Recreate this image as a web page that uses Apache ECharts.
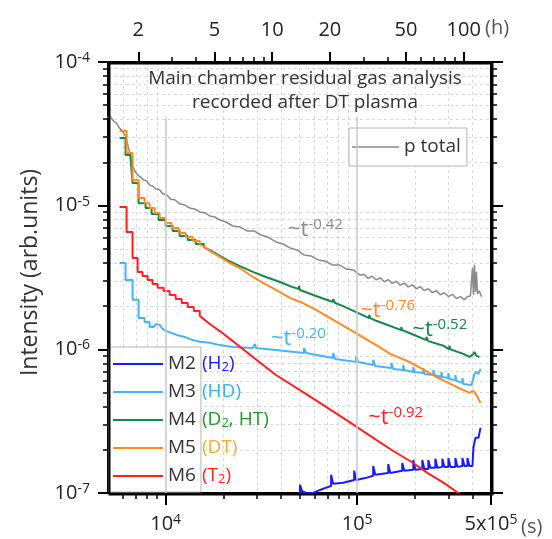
<!DOCTYPE html>
<html>
<head>
<meta charset="utf-8">
<script src="https://cdn.jsdelivr.net/npm/echarts@6.0.0/dist/echarts.min.js"></script>
<style>
  html, body { margin: 0; padding: 0; background: #fff; }
  #chart { width: 552px; height: 539px; }
</style>
</head>
<body>
<div id="chart"></div>
<script>
// ---- data: time after plasma (s) and intensity (arb. units) ----
const totalTime = [4970, 5152, 5342, 5540, 5743, 5884, 6026, 6176, 6324, 6478,
  6637, 6798, 6965, 7136, 7397, 7670, 7954, 8245, 8550, 8862,
  9302, 9645, 10120, 10620, 11150, 11840, 12575, 13357, 14185, 15066,
  16000, 16997, 18050, 19177, 20610, 22430, 24400, 26550, 28880, 31440,
  34200, 37660, 41000, 44600, 48520, 52790, 57430, 62500, 68000, 73980,
  80500, 87580, 95300, 103700, 108800, 114200, 119800, 125800, 131960, 138500,
  145300, 152500, 160000, 167950, 176300, 184900, 194100, 203700, 213700, 224300,
  235300, 247000, 259100, 272000, 285400, 299500, 314400, 329900, 346200, 363300,
  376700, 390500, 400100, 405000, 409900, 414800, 419800, 424900, 435200, 445900];
const totalInt = [4.14e-5, 4.14e-5, 3.88e-5, 3.76e-5, 3.47e-5, 3.36e-5, 3.21e-5, 3.05e-5, 2.69e-5, 2.36e-5,
  1.98e-5, 1.83e-5, 1.71e-5, 1.64e-5, 1.58e-5, 1.51e-5, 1.49e-5, 1.39e-5, 1.37e-5, 1.31e-5,
  1.29e-5, 1.21e-5, 1.19e-5, 1.11e-5, 1.10e-5, 1.03e-5, 1.01e-5, 9.64e-6, 9.48e-6, 9.04e-6,
  8.90e-6, 8.48e-6, 8.34e-6, 7.95e-6, 7.70e-6, 7.22e-6, 7.11e-6, 6.67e-6, 6.67e-6, 6.25e-6,
  6.05e-6, 5.59e-6, 5.41e-6, 5.08e-6, 4.92e-6, 4.54e-6, 4.47e-6, 4.19e-6, 4.12e-6, 3.87e-6,
  3.87e-6, 3.63e-6, 3.57e-6, 3.29e-6, 3.32e-6, 3.12e-6, 3.23e-6, 3.04e-6, 3.15e-6, 2.95e-6,
  3.06e-6, 2.88e-6, 2.98e-6, 2.80e-6, 2.89e-6, 2.72e-6, 2.81e-6, 2.64e-6, 2.73e-6, 2.56e-6,
  2.64e-6, 2.48e-6, 2.56e-6, 2.40e-6, 2.48e-6, 2.33e-6, 2.41e-6, 2.26e-6, 2.33e-6, 2.21e-6,
  2.33e-6, 2.35e-6, 3.68e-6, 2.39e-6, 3.87e-6, 2.51e-6, 3.46e-6, 2.43e-6, 2.55e-6, 2.32e-6];

const m2Time = [50300, 50300, 51520, 54080, 58850, 64020, 68820, 73110, 73110, 74890,
  84480, 96450, 96450, 98810, 110100, 121300, 121300, 124300, 145300, 145300,
  148900, 172000, 172000, 176300, 196500, 196500, 201300, 218900, 218900, 224300,
  235300, 235300, 241100, 256100, 256100, 262300, 278600, 278600, 285400, 299500,
  299500, 306900, 325900, 325900, 333900, 354600, 354600, 363300, 376700, 376700,
  385800, 400100, 404900, 414800, 430100, 440600];
const m2Int = [9.70e-8, 1.14e-7, 1.03e-7, 1.00e-7, 1.00e-7, 1.05e-7, 1.09e-7, 1.12e-7, 1.34e-7, 1.16e-7,
  1.18e-7, 1.23e-7, 1.43e-7, 1.23e-7, 1.27e-7, 1.32e-7, 1.54e-7, 1.34e-7, 1.38e-7, 1.59e-7,
  1.38e-7, 1.43e-7, 1.62e-7, 1.43e-7, 1.45e-7, 1.70e-7, 1.45e-7, 1.47e-7, 1.70e-7, 1.47e-7,
  1.47e-7, 1.70e-7, 1.50e-7, 1.50e-7, 1.73e-7, 1.50e-7, 1.52e-7, 1.73e-7, 1.52e-7, 1.52e-7,
  1.75e-7, 1.52e-7, 1.52e-7, 1.75e-7, 1.52e-7, 1.54e-7, 1.75e-7, 1.54e-7, 1.54e-7, 1.75e-7,
  1.54e-7, 1.54e-7, 2.09e-7, 2.42e-7, 2.42e-7, 2.84e-7];

const m3Time = [5743, 6175, 6175, 6716, 6716, 7222, 7222, 7764, 7764, 8245,
  8245, 8654, 8862, 9302, 9645, 10120, 10750, 11420, 12570, 13850,
  15070, 17000, 19180, 22430, 28540, 29240, 29600, 37660, 52790, 52790,
  54080, 74890, 74890, 76720, 98810, 98810, 101200, 121300, 121300, 124300,
  150700, 150700, 154400, 174100, 174100, 176300, 196500, 196500, 198800, 221600,
  221600, 224300, 250000, 250000, 253000, 275400, 275400, 278600, 299500, 299500,
  303200, 325900, 325900, 329900, 354600, 354600, 358900, 395300, 409900, 419800,
  430100, 440600];
const m3Int = [3.99e-6, 3.99e-6, 3.04e-6, 3.04e-6, 2.21e-6, 2.21e-6, 1.65e-6, 1.65e-6, 1.55e-6, 1.55e-6,
  1.43e-6, 1.43e-6, 1.50e-6, 1.48e-6, 1.39e-6, 1.34e-6, 1.30e-6, 1.26e-6, 1.22e-6, 1.16e-6,
  1.13e-6, 1.11e-6, 1.07e-6, 1.04e-6, 1.02e-6, 1.09e-6, 1.02e-6, 9.90e-7, 9.44e-7, 1.02e-6,
  9.44e-7, 8.71e-7, 9.44e-7, 8.57e-7, 8.18e-7, 8.85e-7, 8.18e-7, 7.79e-7, 8.44e-7, 7.66e-7,
  7.42e-7, 8.04e-7, 7.30e-7, 7.19e-7, 7.79e-7, 7.19e-7, 6.96e-7, 7.54e-7, 6.96e-7, 6.85e-7,
  7.42e-7, 6.74e-7, 6.63e-7, 7.19e-7, 6.63e-7, 6.42e-7, 6.96e-7, 6.42e-7, 6.32e-7, 6.85e-7,
  6.22e-7, 6.12e-7, 6.63e-7, 6.03e-7, 5.84e-7, 6.32e-7, 5.74e-7, 5.65e-7, 6.74e-7, 6.96e-7,
  6.74e-7, 7.30e-7];

const m4Time = [5743, 6175, 6175, 6558, 6558, 6716, 6716, 7222, 7222, 7858,
  7858, 8446, 8446, 9192, 9192, 10000, 10000, 10880, 10880, 11840,
  11840, 13040, 13040, 14360, 14360, 15810, 15810, 18050, 20860, 24400,
  28540, 33390, 39530, 45690, 49700, 49700, 50300, 61010, 72230, 74890,
  74890, 76720, 84480, 115600, 115600, 117000, 125800, 170000, 170000, 172000,
  187300, 229800, 229800, 235300, 282000, 303200, 303200, 306900, 358900, 385800,
  400100, 409900, 419800, 435200];
const m4Int = [2.96e-5, 2.96e-5, 2.25e-5, 2.25e-5, 2.15e-5, 2.15e-5, 1.44e-5, 1.44e-5, 1.04e-5, 1.04e-5,
  9.64e-6, 9.64e-6, 8.76e-6, 8.76e-6, 7.95e-6, 7.95e-6, 7.22e-6, 7.22e-6, 6.67e-6, 6.67e-6,
  6.15e-6, 6.15e-6, 5.77e-6, 5.77e-6, 5.41e-6, 5.41e-6, 5.16e-6, 4.69e-6, 4.19e-6, 3.80e-6,
  3.46e-6, 3.19e-6, 2.94e-6, 2.72e-6, 2.63e-6, 2.76e-6, 2.59e-6, 2.35e-6, 2.17e-6, 2.14e-6,
  2.24e-6, 2.10e-6, 2.00e-6, 1.65e-6, 1.74e-6, 1.65e-6, 1.58e-6, 1.36e-6, 1.43e-6, 1.36e-6,
  1.30e-6, 1.16e-6, 1.22e-6, 1.14e-6, 1.06e-6, 1.00e-6, 1.06e-6, 1.00e-6, 9.29e-7, 8.85e-7,
  9.14e-7, 9.59e-7, 9.00e-7, 8.85e-7];

const m5Time = [5743, 6249, 6249, 6716, 6716, 7222, 7222, 7764, 7764, 8245,
  8245, 8758, 8758, 9302, 9302, 10000, 10000, 10750, 10750, 11700,
  11700, 12730, 12730, 13850, 13850, 15070, 15070, 17000, 19180, 21630,
  24400, 28540, 32990, 37660, 44600, 52150, 61010, 72230, 84480, 100000,
  125800, 148900, 187300, 213700, 259100, 292400, 329900, 367700, 385800, 400100,
  409900, 424900, 440600];
const m5Int = [3.31e-5, 3.31e-5, 2.33e-5, 2.33e-5, 1.51e-5, 1.51e-5, 1.13e-5, 1.13e-5, 1.04e-5, 1.04e-5,
  9.64e-6, 9.64e-6, 8.90e-6, 8.90e-6, 8.20e-6, 8.20e-6, 7.58e-6, 7.58e-6, 7.00e-6, 7.00e-6,
  6.46e-6, 6.46e-6, 6.05e-6, 6.05e-6, 5.68e-6, 5.68e-6, 5.41e-6, 4.84e-6, 4.40e-6, 3.99e-6,
  3.68e-6, 3.19e-6, 2.85e-6, 2.59e-6, 2.28e-6, 2.10e-6, 1.88e-6, 1.65e-6, 1.46e-6, 1.28e-6,
  1.07e-6, 9.29e-7, 8.18e-7, 7.42e-7, 6.42e-7, 5.93e-7, 5.47e-7, 5.14e-7, 4.97e-7, 5.14e-7,
  5.05e-7, 4.66e-7, 4.24e-7];

const m6Time = [5743, 6249, 6249, 6716, 6716, 7136, 7136, 7578, 7578, 8050,
  8050, 8550, 8550, 9080, 9080, 9761, 9761, 10490, 10490, 11280,
  11280, 12130, 12130, 13040, 13040, 14020, 14020, 15070, 15070, 17000,
  19180, 22430, 28540, 37660, 56080, 84480, 125800, 154400, 191800, 232600,
  282000, 337900, 354600];
const m6Int = [9.79e-6, 9.79e-6, 6.56e-6, 6.56e-6, 4.33e-6, 4.33e-6, 3.46e-6, 3.46e-6, 3.24e-6, 3.24e-6,
  3.04e-6, 3.04e-6, 2.85e-6, 2.85e-6, 2.68e-6, 2.68e-6, 2.55e-6, 2.55e-6, 2.39e-6, 2.39e-6,
  2.24e-6, 2.24e-6, 2.10e-6, 2.10e-6, 1.97e-6, 1.97e-6, 1.85e-6, 1.85e-6, 1.71e-6, 1.50e-6,
  1.34e-6, 1.14e-6, 8.85e-7, 6.63e-7, 4.74e-7, 3.33e-7, 2.34e-7, 1.96e-7, 1.65e-7, 1.38e-7,
  1.18e-7, 1.00e-7, 9.54e-8];

// series names, legend texts, colours
const massNames = ['M2', 'M3', 'M4', 'M5', 'M6'];
const speciesText = ['{c0|(H}{d0|2}{c0|)}', '{c1|(HD)}', '{c2|(D}{d2|2}{c2|, HT)}', '{c3|(DT)}', '{c4|(T}{d4|2}{c4|)}'];
const massColor = ['#1a1aff', '#45b4f8', '#14874b', '#ff8a1e', '#ff1f1f'];
const speciesColor = ['#1d1df0', '#32b4ee', '#1c9b2c', '#f0b22c', '#ff2424'];
const totalColor = '#8a8a8a';

// power-law annotations ("~t^exp"), anchored at left edge of text
const annExp = ['-0.42', '-0.76', '-0.52', '-0.20', '-0.92'];
const annT = [43520, 103700, 194100, 35450, 114200];
const annI = [6.77e-6, 1.85e-6, 1.36e-6, 1.18e-6, 3.33e-7];
const annColor = ['#8a8a8a', '#ff8a1e', '#14874b', '#45b4f8', '#ff1f1f'];

// axes
const tMin = 5000, tMax = 500000;
const secMajor = [10000, 100000, 500000];
const secLabelBase = ['10', '10', '5x10'];
const secLabelExp = ['4', '5', '5'];
const secMinor = [6000, 7000, 8000, 9000, 20000, 30000, 40000, 50000, 60000, 70000, 80000, 90000, 200000, 300000, 400000];
const hourMajor = [2, 5, 10, 20, 50, 100];
const hourMinor = [3, 4, 6, 7, 8, 9, 30, 40, 60, 70, 80, 90];
const yMin = 1e-7, yMax = 1e-4;
const yMajor = [1e-7, 1e-6, 1e-5, 1e-4];
const yLabelExp = ['-7', '-6', '-5', '-4'];
const yMinor = [2e-7, 3e-7, 4e-7, 5e-7, 6e-7, 7e-7, 8e-7, 9e-7,
  2e-6, 3e-6, 4e-6, 5e-6, 6e-6, 7e-6, 8e-6, 9e-6,
  2e-5, 3e-5, 4e-5, 5e-5, 6e-5, 7e-5, 8e-5, 9e-5];
const majorGridTop = 4.14e-5;

const FONT = '"Open Sans", "Noto Sans", sans-serif';
const GRID = { left: 108, top: 62, width: 383, height: 431 };
const pairs = (ts, vs) => ts.map((t, i) => [t, vs[i]]);
const findIdx = (arr, v) => arr.findIndex(u => Math.abs(Math.log10(u) - Math.log10(v)) < 0.005);

const supRich = {
  b: { fontFamily: FONT, fontSize: 20, color: '#222', lineHeight: 22 },
  s: { fontFamily: FONT, fontSize: 14, color: '#222', lineHeight: 12, verticalAlign: 'top' }
};
const blackLine = () => ({ show: true, onZero: false, lineStyle: { color: '#000', width: 2 } });
const majorTick = (len, vals) => ({ show: true, length: len, customValues: vals, lineStyle: { color: '#000', width: 2 } });
const minorTick = (len, vals) => ({ show: true, length: len, customValues: vals, lineStyle: { color: '#000', width: 1.5 } });
const dashed = { show: true, lineStyle: { color: '#d8d8d8', width: 1, type: [3, 3] } };

function logAxis(extra) {
  return Object.assign({
    type: 'log', logBase: 10,
    axisLine: { show: false }, axisTick: { show: false }, axisLabel: { show: false },
    splitLine: { show: false }, minorTick: { show: false }, minorSplitLine: { show: false },
    nameMoveOverlap: false
  }, extra);
}

function annotation(i) {
  return {
    symbol: 'circle', symbolSize: 0, silent: true, animation: false,
    itemStyle: { color: 'transparent' },
    label: {
      show: true, position: 'right', distance: 0,
      formatter: '{a|~t}{s|' + annExp[i] + '}',
      rich: {
        a: { fontFamily: FONT, fontSize: 22, color: annColor[i], lineHeight: 26 },
        s: { fontFamily: FONT, fontSize: 15, color: annColor[i], lineHeight: 12, verticalAlign: 'top' }
      }
    },
    data: [{ coord: [annT[i], annI[i]] }]
  };
}

const speciesRich = {};
speciesColor.forEach((c, i) => {
  speciesRich['c' + i] = { fontFamily: FONT, fontSize: 19, color: c, lineHeight: 20 };
  speciesRich['d' + i] = { fontFamily: FONT, fontSize: 13, color: c, lineHeight: 12, verticalAlign: 'bottom' };
});

const massData = [pairs(m2Time, m2Int), pairs(m3Time, m3Int), pairs(m4Time, m4Int), pairs(m5Time, m5Int), pairs(m6Time, m6Int)];
const massAnn = [null, 3, 2, 1, 4];

const series = [
  {
    name: '_grid', type: 'line', data: [], z: 1, silent: true,
    markLine: {
      silent: true, animation: false, symbol: ['none', 'none'], label: { show: false },
      lineStyle: { color: '#c8c8c8', width: 1.5, type: 'solid' },
      data: [
        [{ coord: [secMajor[0], majorGridTop] }, { coord: [secMajor[0], yMin] }],
        [{ coord: [secMajor[1], majorGridTop] }, { coord: [secMajor[1], yMin] }],
        { yAxis: 1e-5 }, { yAxis: 1e-6 }
      ]
    }
  },
  {
    name: 'p total', type: 'line', data: pairs(totalTime, totalInt),
    symbol: 'none', showSymbol: false, z: 2,
    lineStyle: { color: totalColor, width: 1.5 }, itemStyle: { color: totalColor },
    markPoint: annotation(0)
  }
];
massNames.forEach((n, i) => {
  const s = {
    name: n, type: 'line', data: massData[i], symbol: 'none', showSymbol: false, z: 3,
    lineStyle: { color: massColor[i], width: 2 }, itemStyle: { color: massColor[i] }
  };
  if (massAnn[i] !== null) s.markPoint = annotation(massAnn[i]);
  series.push(s);
});

const chart = echarts.init(document.getElementById('chart'));
chart.setOption({
  animation: false,
  backgroundColor: '#fff',
  title: {
    text: 'Main chamber residual gas analysis\nrecorded after DT plasma',
    left: 305, top: 67, textAlign: 'center', padding: 0,
    textStyle: { fontFamily: FONT, fontSize: 19, fontWeight: 'normal', color: '#333', lineHeight: 24 }
  },
  grid: Object.assign({ containLabel: false, outerBoundsMode: 'none', show: false }, GRID),
  // plot frame drawn on the grid rectangle
  graphic: [{
    type: 'rect', silent: true, z: 100, left: GRID.left - 1, top: GRID.top - 1,
    shape: { x: 0, y: 0, width: GRID.width, height: GRID.height },
    style: { fill: 'none', stroke: '#000000', lineWidth: 2 }
  }],
  legend: [
    {
      data: massNames, orient: 'vertical', left: 109, top: 347, padding: [7, 5, 6, 4],
      itemGap: 8, itemWidth: 50, itemHeight: 2, icon: 'rect', selectedMode: false,
      backgroundColor: '#fff', borderColor: '#b4b4b4', borderWidth: 1, borderRadius: 0,
      textStyle: { fontFamily: FONT, fontSize: 19, color: '#333', lineHeight: 20 }
    },
    {
      data: massNames, orient: 'vertical', left: 197, top: 347, padding: [7, 0, 6, 0],
      itemGap: 8, itemWidth: 0, itemHeight: 2, icon: 'none', selectedMode: false,
      formatter: name => speciesText[massNames.indexOf(name)],
      textStyle: { fontFamily: FONT, fontSize: 19, lineHeight: 20, rich: speciesRich }
    },
    {
      data: ['p total'], left: 349, top: 128, padding: [8, 6, 8, 3],
      itemWidth: 47, itemHeight: 1.5, icon: 'rect', selectedMode: false,
      backgroundColor: '#fff', borderColor: '#b4b4b4', borderWidth: 1, borderRadius: 0,
      textStyle: { fontFamily: FONT, fontSize: 19, color: '#333', lineHeight: 22 }
    }
  ],
  xAxis: [
    logAxis({
      position: 'bottom', min: tMin, max: tMax,
      axisLine: blackLine(), axisTick: majorTick(12, secMajor),
      axisLabel: {
        show: true, customValues: secMajor, margin: 20, rich: supRich,
        formatter: v => { const i = findIdx(secMajor, v); return i < 0 ? '' : '{b|' + secLabelBase[i] + '}{s|' + secLabelExp[i] + '}'; }
      },
      name: '(s)', nameLocation: 'end', nameGap: 30,
      nameTextStyle: { fontFamily: FONT, fontSize: 20, color: '#555', lineHeight: 22, verticalAlign: 'top', align: 'left', padding: [23, 0, 0, 0] }
    }),
    logAxis({ position: 'bottom', min: tMin, max: tMax, axisTick: minorTick(6, secMinor), splitLine: dashed }),
    logAxis({
      position: 'top', min: tMin / 3600, max: tMax / 3600,
      axisLine: blackLine(), axisTick: majorTick(10, hourMajor),
      axisLabel: { show: true, customValues: hourMajor, margin: 21, fontFamily: FONT, fontSize: 20, color: '#222', lineHeight: 22, formatter: v => String(Math.round(v)) },
      name: '(h)', nameLocation: 'end', nameGap: -6,
      nameTextStyle: { fontFamily: FONT, fontSize: 20, color: '#555', lineHeight: 22, verticalAlign: 'bottom', align: 'left', padding: [0, 0, 23, 0] }
    }),
    logAxis({ position: 'top', min: tMin / 3600, max: tMax / 3600, axisTick: minorTick(5, hourMinor) })
  ],
  yAxis: [
    logAxis({
      position: 'left', min: yMin, max: yMax,
      axisLine: blackLine(), axisTick: majorTick(10, yMajor),
      axisLabel: {
        show: true, customValues: yMajor, margin: 18, rich: supRich,
        formatter: v => { const i = findIdx(yMajor, v); return i < 0 ? '' : '{b|10}{s|' + yLabelExp[i] + '}'; }
      },
      name: 'Intensity (arb.units)', nameLocation: 'middle', nameGap: 66, nameRotate: 90,
      nameTextStyle: { fontFamily: FONT, fontSize: 23, color: '#333', padding: [0, 0, 0, 10] }
    }),
    logAxis({ position: 'left', min: yMin, max: yMax, axisTick: minorTick(5, yMinor), splitLine: dashed }),
    logAxis({ position: 'right', min: yMin, max: yMax, axisLine: blackLine(), axisTick: majorTick(12, yMajor) }),
    logAxis({ position: 'right', min: yMin, max: yMax, axisTick: minorTick(6, yMinor) })
  ],
  series: series
});
</script>
</body>
</html>
